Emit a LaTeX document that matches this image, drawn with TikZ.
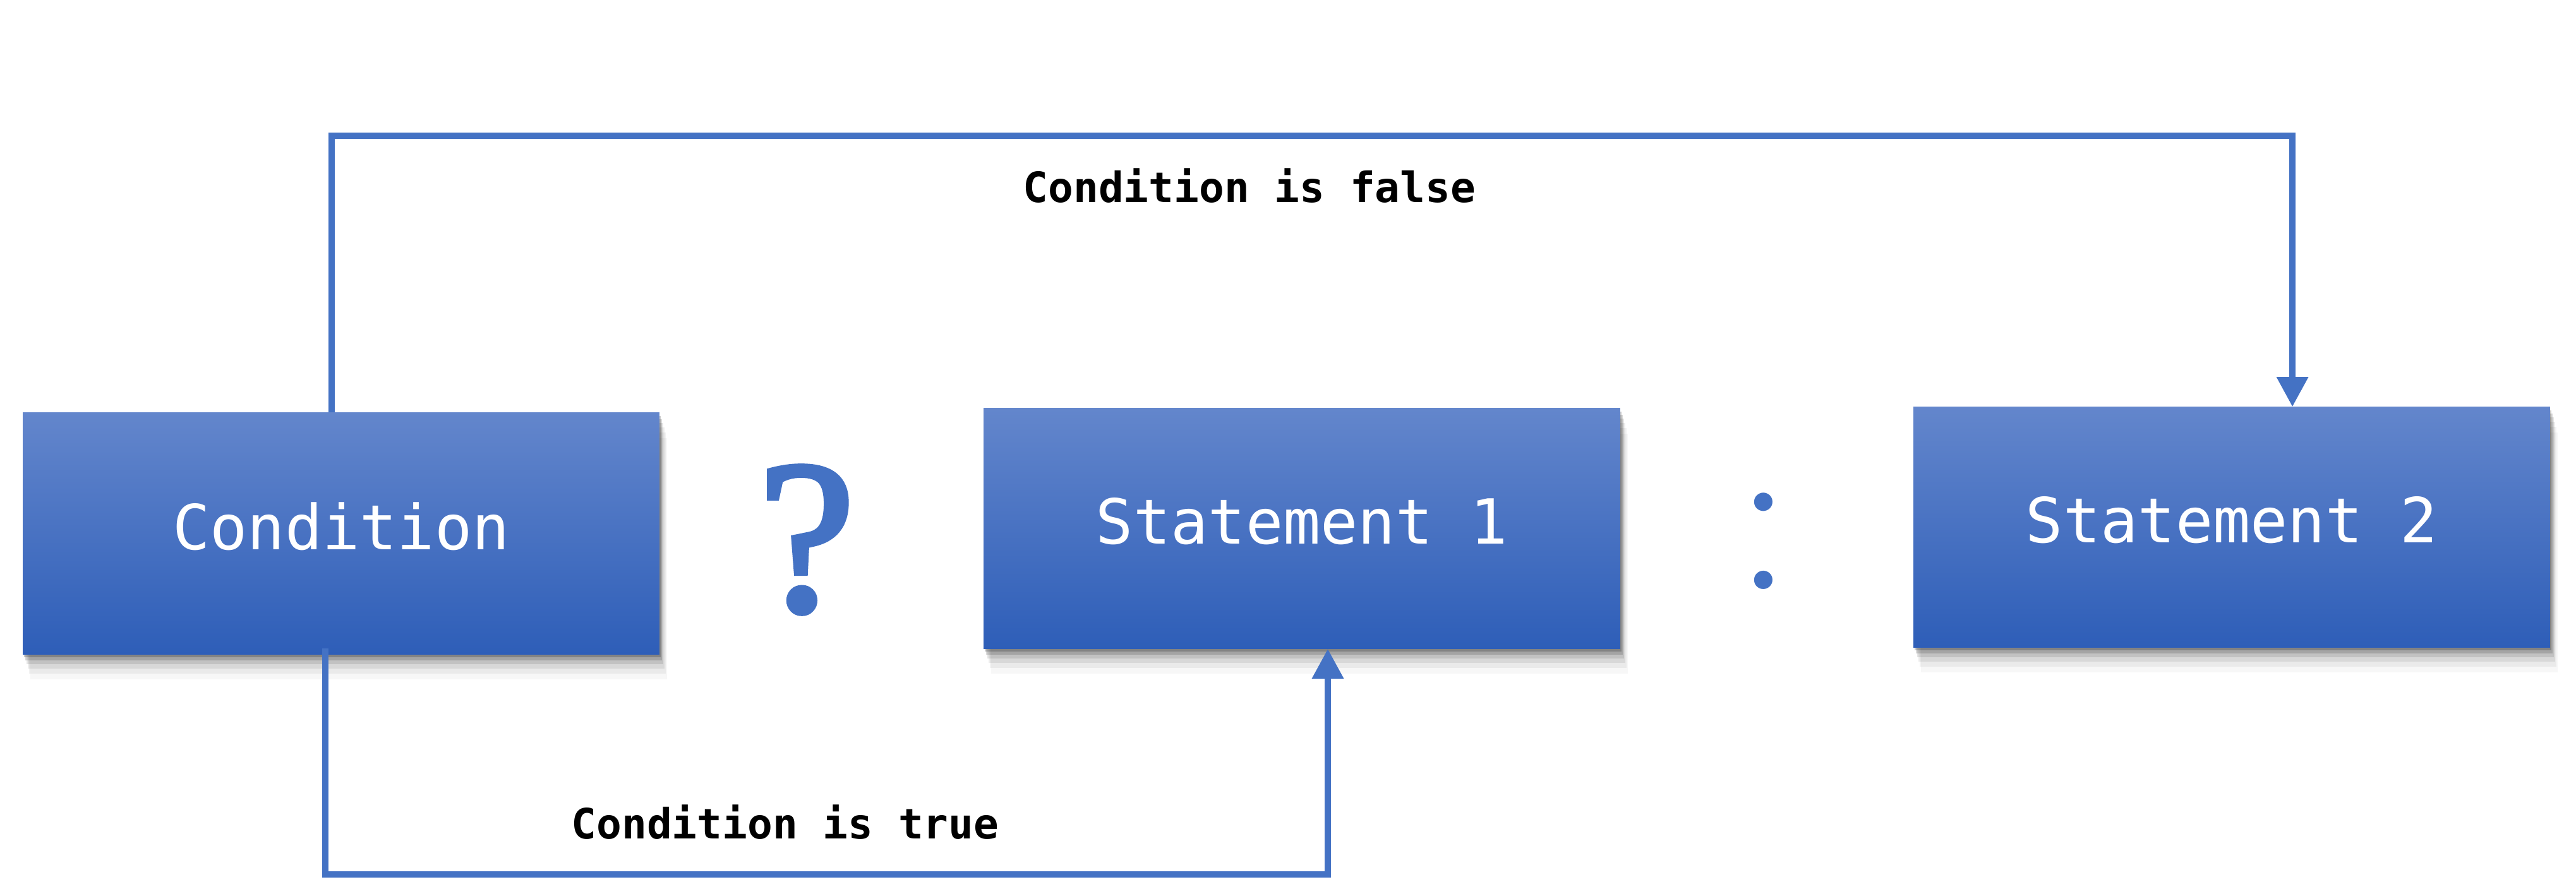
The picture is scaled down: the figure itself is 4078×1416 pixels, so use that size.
\documentclass[tikz,border=0pt]{standalone}
\usepackage{fontspec}
\setmonofont{DejaVu Sans Mono}
\newfontfamily\qfont[FakeBold=2.5]{Liberation Serif}
\usetikzlibrary{shadows,arrows.meta}
\definecolor{lineblue}{RGB}{68,114,196}
\definecolor{boxtop}{RGB}{99,134,204}
\definecolor{boxbot}{RGB}{46,94,184}
\tikzset{
  softshadow/.style={
    general shadow={shadow xshift=0.02cm, shadow yshift=-0.05cm, fill=black, opacity=0.20},
    general shadow={shadow xshift=0.04cm, shadow yshift=-0.10cm, fill=black, opacity=0.15},
    general shadow={shadow xshift=0.06cm, shadow yshift=-0.16cm, fill=black, opacity=0.10},
    general shadow={shadow xshift=0.08cm, shadow yshift=-0.23cm, fill=black, opacity=0.07},
    general shadow={shadow xshift=0.10cm, shadow yshift=-0.31cm, fill=black, opacity=0.05},
    general shadow={shadow xshift=0.12cm, shadow yshift=-0.40cm, fill=black, opacity=0.03}
  },
  bluebox/.style={rectangle, minimum width=10.07cm, minimum height=3.8cm, inner sep=0pt,
    top color=boxtop, bottom color=boxbot, draw=none, softshadow,
    text=white, text depth=0.24cm, font=\ttfamily\fontsize{28}{32}\selectfont},
  conn/.style={draw=lineblue, line width=2.7pt},
  arr/.style={conn, -{Triangle[length=0.47cm, width=0.48cm]}},
  lbl/.style={font=\ttfamily\bfseries\fontsize{18.8}{22}\selectfont, text=black, inner sep=0pt},
  sym/.style={text=lineblue, inner sep=0pt}
}
\begin{document}
\begin{tikzpicture}[x=0.01cm, y=-0.01cm]
\useasboundingbox[fill=white] (0,0) rectangle (4078,1416);
\node[bluebox, minimum height=3.82cm] (cond) at (540,845) {Condition};
\node[bluebox] (s1) at (2061,837) {Statement 1};
\node[bluebox] (s2) at (3533,835) {Statement 2};
\node[sym, font=\qfont\fontsize{98}{98}\selectfont] (q) at (1277,855) {?};
\node[sym, font=\fontsize{101}{101}\selectfont] (colon) at (2792,857) {:};
\coordinate (ftop) at (2000,215);
\coordinate (tbot) at (1300,1385);
\draw[arr] ([xshift=-0.15cm]cond.north) |- (ftop) -| ([xshift=0.96cm]s2.north);
\draw[arr] ([xshift=-0.25cm, yshift=0.1cm]cond.south) |- (tbot) -| ([xshift=0.41cm]s1.south);
\node[lbl] (lf) at (1978,294) {Condition is false};
\node[lbl] (lt) at (1243,1302) {Condition is true};
\end{tikzpicture}
\end{document}
